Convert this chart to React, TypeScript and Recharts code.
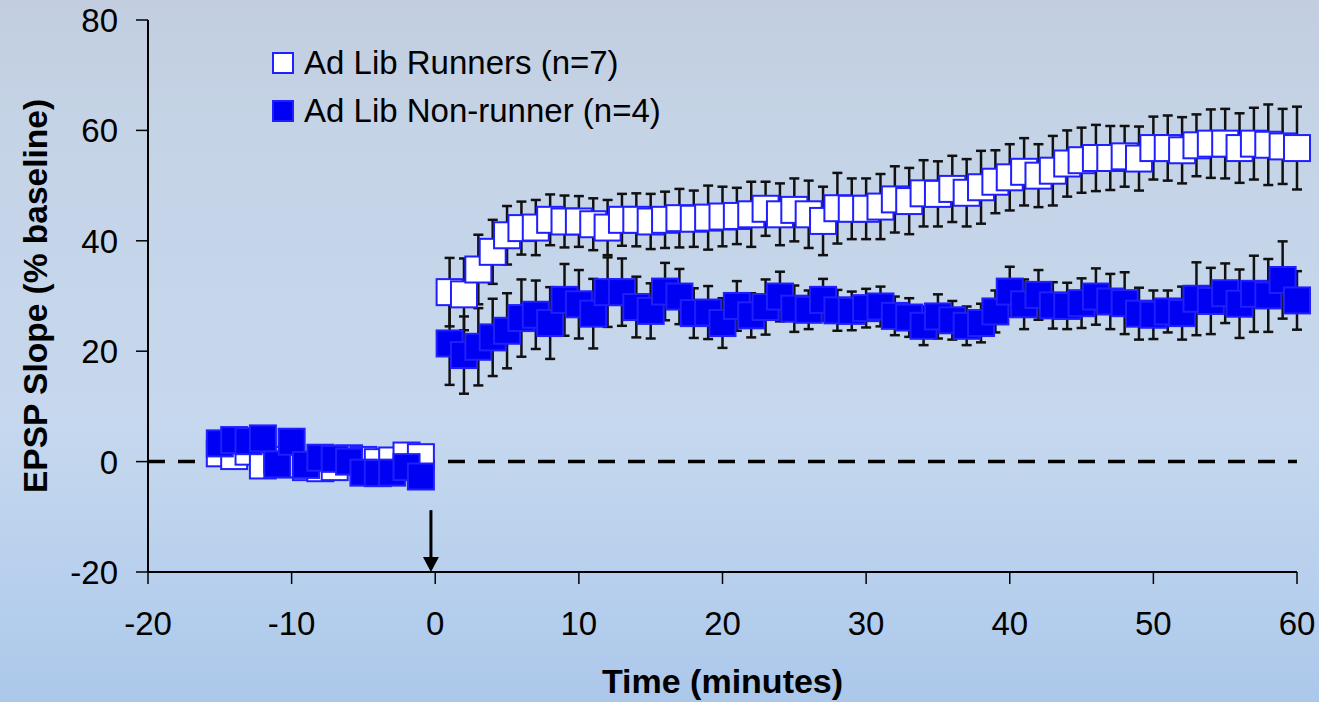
import React from "react";
import { ScatterChart, Scatter, XAxis, YAxis, ErrorBar, ReferenceLine, ReferenceDot, Legend } from "recharts";

// time points (minutes relative to tetanus)
const minutes = [
  -15, -14, -13, -12, -11, -10, -9, -8, -7, -6, -5, -4, -3, -2, -1,
  1, 2, 3, 4, 5, 6, 7, 8, 9, 10, 11, 12, 13, 14, 15, 16, 17, 18, 19, 20,
  21, 22, 23, 24, 25, 26, 27, 28, 29, 30, 31, 32, 33, 34, 35, 36, 37, 38, 39, 40,
  41, 42, 43, 44, 45, 46, 47, 48, 49, 50, 51, 52, 53, 54, 55, 56, 57, 58, 59, 60,
];

const runnerMean = [
  1.5, 1.0, 1.8, -0.7, 0.3, -0.5, -1.0, -1.2, -1.0, 0.6, 0.3, -0.1, 0.2, 1.1, 0.8,
  30.7, 30.3, 34.8, 38.0, 41.0, 42.3, 42.4, 43.8, 43.5, 43.5, 43.0, 42.4, 43.8, 43.8, 43.5, 43.8, 44.1, 44.0, 44.2, 44.4,
  44.5, 44.8, 45.8, 44.8, 45.6, 44.8, 43.6, 45.9, 45.8, 45.8, 46.2, 47.5, 47.2, 48.6, 48.5, 49.4, 48.7, 49.7, 50.7, 51.5,
  52.5, 51.8, 52.7, 54.0, 54.6, 55.0, 55.0, 55.3, 54.9, 56.8, 56.8, 56.4, 57.3, 57.6, 57.6, 56.8, 57.6, 57.4, 57.1, 56.8,
];

const runnerSem = [
  1.2, 1.2, 1.2, 1.2, 1.2, 1.2, 1.2, 1.2, 1.2, 1.2, 1.2, 1.2, 1.2, 1.2, 1.2,
  6.2, 6.5, 6.3, 5.8, 5.3, 4.8, 5.0, 4.6, 4.7, 4.6, 4.7, 5.0, 4.7, 4.8, 5.0, 5.1, 5.3, 5.1, 5.8, 5.4,
  5.1, 5.9, 4.9, 5.6, 5.7, 6.1, 6.2, 6.4, 5.5, 5.5, 5.9, 6.0, 6.0, 6.0, 5.9, 6.0, 6.1, 6.6, 5.7, 6.0,
  6.1, 5.7, 6.3, 6.0, 5.9, 6.0, 5.8, 5.5, 5.8, 5.7, 5.9, 6.0, 5.6, 6.2, 6.3, 6.3, 6.5, 7.3, 6.8, 7.5,
];

const nonRunnerMean = [
  3.3, 3.9, 3.7, 4.2, -0.5, 3.6, -0.6, 0.7, 0.5, 0.0, -2.0, -2.1, -2.0, -1.0, -2.7,
  21.4, 19.3, 20.8, 22.5, 23.7, 26.0, 26.6, 25.1, 29.3, 28.5, 26.8, 30.7, 30.7, 28.0, 27.3, 30.8, 29.9, 26.9, 27.0, 25.1,
  28.2, 26.5, 28.0, 29.9, 27.7, 27.5, 29.3, 27.4, 27.3, 27.8, 28.1, 26.4, 26.1, 24.6, 26.3, 25.6, 24.6, 25.1, 27.2, 30.8,
  28.5, 30.2, 28.3, 28.2, 28.7, 29.9, 29.0, 28.7, 26.8, 26.6, 27.2, 26.9, 29.5, 29.1, 30.5, 28.6, 30.4, 30.1, 32.9, 29.2,
];

const nonRunnerSem = [
  1.5, 1.5, 1.5, 1.5, 1.5, 1.5, 1.5, 1.5, 1.5, 1.5, 1.5, 1.5, 1.5, 1.5, 1.5,
  7.5, 7.0, 7.0, 7.0, 6.8, 7.0, 6.2, 6.5, 6.5, 6.2, 6.3, 6.3, 6.1, 5.5, 5.0, 5.2, 5.0, 4.5, 4.8, 4.5,
  4.5, 4.0, 5.0, 4.5, 4.2, 3.5, 3.8, 3.7, 3.5, 3.5, 3.6, 3.5, 3.5, 3.5, 4.0, 3.5, 3.5, 3.5, 3.8, 4.5,
  4.5, 4.5, 4.2, 4.2, 4.5, 5.1, 5.0, 5.6, 4.7, 4.4, 3.8, 4.8, 6.6, 6.0, 5.4, 6.2, 6.9, 6.6, 7.0, 5.3,
];

const seriesNames = ["Ad Lib Runners (n=7)", "Ad Lib Non-runner (n=4)"];
const xTicks = [-20, -10, 0, 10, 20, 30, 40, 50, 60];
const yTicks = [-20, 0, 20, 40, 60, 80];

// arrow marking the tetanus
const tetanusTime = -0.3;
const arrowTop = -8.8;
const arrowHeadBase = -17.5;

const FONT = "'Liberation Sans', Arial, Helvetica, sans-serif";
const BLUE = "#0000f2";
const BLUE_EDGE = "#1f1fff";

const runnerData = minutes.map((t, i) => ({ t, y: runnerMean[i], err: runnerSem[i] }));
const nonRunnerData = minutes.map((t, i) => ({ t, y: nonRunnerMean[i], err: nonRunnerSem[i] }));

const HollowSquare = (props: any) => (
  <rect x={props.cx - 13} y={props.cy - 13} width={26} height={26} fill="#ffffff" stroke={BLUE_EDGE} strokeWidth={2} />
);

const FilledSquare = (props: any) => (
  <rect x={props.cx - 13} y={props.cy - 13} width={26} height={26} fill={BLUE} stroke={BLUE_EDGE} strokeWidth={2} />
);

const ArrowHead = (props: any) => {
  const { cx, cy } = props;
  return <polygon points={`${cx - 8},${cy - 15} ${cx + 8},${cy - 15} ${cx},${cy}`} fill="#000" />;
};

const XTick = (props: any) => (
  <text x={props.x} y={props.y} dy={49} textAnchor="middle" fontSize={33} fontFamily={FONT} fill="#000">
    {props.payload.value}
  </text>
);

const YTick = (props: any) => (
  <text x={props.x - 16} y={props.y} dy={12} textAnchor="end" fontSize={33} fontFamily={FONT} fill="#000">
    {props.payload.value}
  </text>
);

const YTitle = (props: any) => {
  const vb = props.viewBox || { x: 0, y: 20, width: 148, height: 552 };
  const x = vb.x + 35;
  const y = vb.y + vb.height / 2;
  return (
    <text x={x} y={y} transform={`rotate(-90, ${x}, ${y})`} textAnchor="middle" dominantBaseline="central"
      fontSize={33.5} fontWeight="bold" fontFamily={FONT} fill="#000">
      EPSP Slope (% baseline)
    </text>
  );
};

const XTitle = (props: any) => {
  const vb = props.viewBox || { x: 148, y: 572, width: 1149, height: 130 };
  return (
    <text x={vb.x + vb.width / 2} y={vb.y + 121} textAnchor="middle" fontSize={34} fontWeight="bold" fontFamily={FONT} fill="#000">
      Time (minutes)
    </text>
  );
};

const LegendBox = () => (
  <div style={{ fontFamily: FONT, fontSize: 33, color: "#000", lineHeight: "48px" }}>
    {seriesNames.map((name, i) => (
      <div key={name} style={{ display: "flex", alignItems: "center", height: 48, whiteSpace: "nowrap" }}>
        <span
          style={{
            display: "inline-block",
            width: 18,
            height: 18,
            marginRight: 10,
            background: i === 0 ? "#fff" : BLUE,
            border: `2px solid ${BLUE_EDGE}`,
          }}
        />
        {name}
      </div>
    ))}
  </div>
);

export default function App() {
  return (
    <div
      style={{
        position: "fixed",
        left: 0,
        top: 0,
        width: 1319,
        height: 702,
        background: "linear-gradient(180deg, #c2cee0 0%, #c5d3e6 18%, #c6d8ee 60%, #b6cfed 85%, #abc7ea 100%)",
      }}
    >
      <ScatterChart width={1319} height={702} margin={{ top: 20, right: 22, left: 0, bottom: 0 }}>
        <XAxis
          type="number"
          dataKey="t"
          domain={[-20, 60]}
          ticks={xTicks}
          interval={0}
          tick={<XTick />}
          tickSize={12}
          height={130}
          axisLine={{ stroke: "#000", strokeWidth: 2 }}
          tickLine={{ stroke: "#000", strokeWidth: 1.5 }}
          label={<XTitle />}
        />
        <YAxis
          type="number"
          dataKey="y"
          domain={[-20, 80]}
          ticks={yTicks}
          interval={0}
          tick={<YTick />}
          tickSize={12}
          width={148}
          axisLine={{ stroke: "#000", strokeWidth: 2 }}
          tickLine={{ stroke: "#000", strokeWidth: 1.5 }}
          label={<YTitle />}
        />
        <Legend
          layout="vertical"
          align="center"
          verticalAlign="middle"
          content={<LegendBox />}
          wrapperStyle={{ left: 272, top: 39, width: "auto", height: "auto" }}
        />
        <Scatter name={seriesNames[0]} data={runnerData} shape={<HollowSquare />} isAnimationActive={false}>
          <ErrorBar dataKey="err" direction="y" width={5} stroke="#111" strokeWidth={2.5} isAnimationActive={false} />
        </Scatter>
        <Scatter name={seriesNames[1]} data={nonRunnerData} shape={<FilledSquare />} isAnimationActive={false}>
          <ErrorBar dataKey="err" direction="y" width={5} stroke="#111" strokeWidth={2.5} isAnimationActive={false} />
        </Scatter>
        <ReferenceLine y={0} stroke="#000" strokeWidth={3.5} strokeDasharray="17 13" />
        <ReferenceLine
          segment={[{ x: tetanusTime, y: arrowTop }, { x: tetanusTime, y: arrowHeadBase }]}
          stroke="#000"
          strokeWidth={3}
        />
        <ReferenceDot x={tetanusTime} y={-20} r={8} shape={<ArrowHead />} ifOverflow="visible" />
      </ScatterChart>
    </div>
  );
}
